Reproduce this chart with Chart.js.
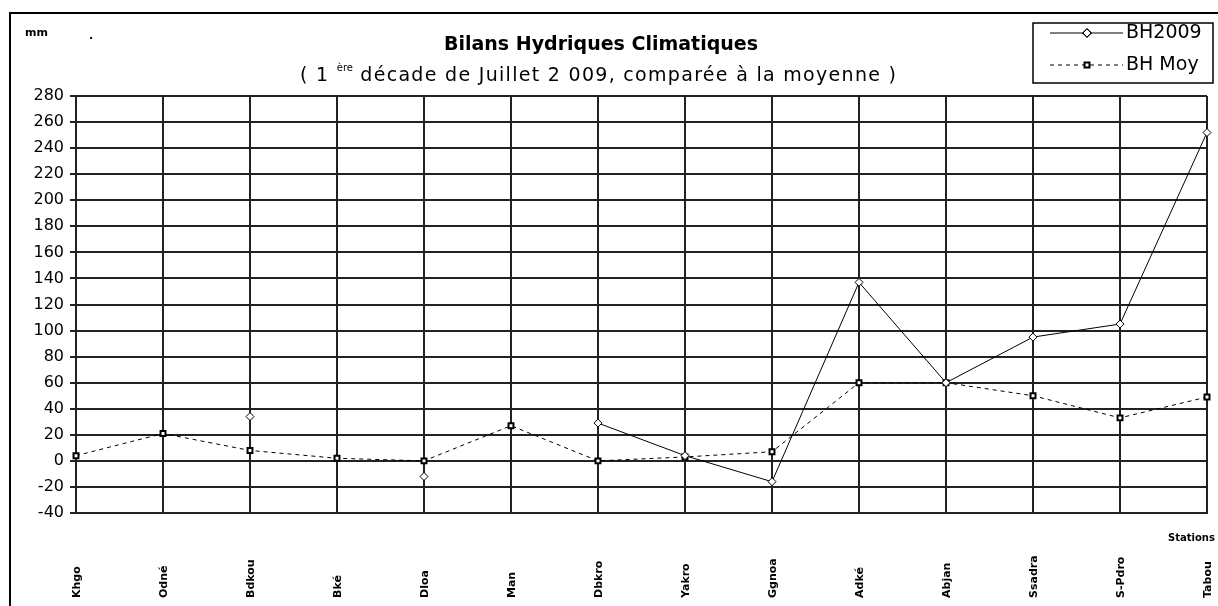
<!DOCTYPE html>
<html>
<head>
<meta charset="utf-8">
<script src="https://cdn.jsdelivr.net/npm/chart.js@4/dist/chart.umd.min.js"></script>
<style>
  body { margin: 0; background: #fff; }
  #wrap { width: 1218px; height: 606px; position: relative; }
</style>
</head>
<body>
<div id="wrap"><canvas id="bhChart"></canvas></div>
<script>
// stations (x axis categories)
const stations = ['Khgo', 'Odné', 'Bdkou', 'Bké', 'Dloa', 'Man', 'Dbkro', 'Yakro', 'Ggnoa', 'Adké', 'Abjan', 'Ssadra', 'S-Pdro', 'Tabou'];

// water balance 2009, mm (null = no value)
const bh2009 = [null, null, 34, null, -12, null, 29, 4, -16, 137, 60, 95, 105, 252];

// average water balance, mm
const bhMoy = [4, 21, 8, 2, 0, 27, 0, 3, 7, 60, 60, 50, 33, 49];

const seriesNames = ['BH2009', 'BH Moy'];

const yMin = -40;
const yMax = 280;
const yStep = 20;

const FONT = '"DejaVu Sans", Verdana, sans-serif';

// draws the frame, titles, legend and rotated station names
const decorPlugin = {
    id: 'decor',
    afterDraw(chart) {
        const ctx = chart.ctx;
        const xScale = chart.scales.x;
        ctx.save();

        // outer frame
        ctx.strokeStyle = '#000';
        ctx.lineWidth = 2;
        ctx.beginPath();
        ctx.moveTo(10, 606);
        ctx.lineTo(10, 13);
        ctx.lineTo(1218, 13);
        ctx.stroke();

        ctx.fillStyle = '#000';
        ctx.font = 'bold 11px ' + FONT;
        ctx.textAlign = 'left';
        ctx.textBaseline = 'middle';
        ctx.fillText('mm', 25, 33);
        ctx.fillText('.', 89, 36);

        // titles
        ctx.font = 'bold 19px ' + FONT;
        ctx.textAlign = 'center';
        ctx.fillText('Bilans Hydriques Climatiques', 601, 45);

        ctx.font = '19px ' + FONT;
        ctx.textAlign = 'left';
        ctx.letterSpacing = '1.3px';
        let x = 300;
        const part1 = '( 1 ';
        ctx.fillText(part1, x, 76);
        x += ctx.measureText(part1).width;
        ctx.font = '10px ' + FONT;
        ctx.letterSpacing = '0px';
        ctx.fillText('ère', x, 68);
        x += ctx.measureText('ère').width;
        ctx.font = '19px ' + FONT;
        ctx.letterSpacing = '1.3px';
        ctx.fillText(' décade de Juillet 2 009, comparée à la moyenne )', x, 76);
        ctx.letterSpacing = '0px';

        // legend
        ctx.lineWidth = 1.5;
        ctx.strokeRect(1033, 23, 180, 60);
        const rows = [33, 65];
        chart.data.datasets.forEach((ds, i) => {
            const y = rows[i];
            ctx.save();
            ctx.strokeStyle = '#000';
            ctx.lineWidth = 1;
            ctx.setLineDash(ds.borderDash || []);
            ctx.beginPath();
            ctx.moveTo(1050, y);
            ctx.lineTo(1123, y);
            ctx.stroke();
            ctx.restore();
            Chart.helpers.drawPoint(ctx, {
                pointStyle: ds.pointStyle,
                radius: ds.pointRadius,
                borderWidth: ds.pointBorderWidth,
                rotation: 0
            }, 1087, y);
            ctx.fillStyle = ds.pointBackgroundColor;
            ctx.strokeStyle = '#000';
            ctx.lineWidth = ds.pointBorderWidth;
            ctx.fill();
            ctx.stroke();
            ctx.fillStyle = '#000';
            ctx.font = '19px ' + FONT;
            ctx.textAlign = 'left';
            ctx.textBaseline = 'middle';
            ctx.fillText(ds.label, 1126, y);
        });

        // station labels, rotated and anchored at the bottom
        ctx.font = 'bold 11px ' + FONT;
        ctx.textAlign = 'left';
        ctx.textBaseline = 'middle';
        stations.forEach((s, i) => {
            const px = xScale.getPixelForValue(i);
            ctx.save();
            ctx.translate(px + 1, 598);
            ctx.rotate(-Math.PI / 2);
            ctx.fillText(s, 0, 0);
            ctx.restore();
        });

        ctx.font = 'bold 10px ' + FONT;
        ctx.textAlign = 'left';
        ctx.fillText('Stations', 1168, 538);
        ctx.restore();
    }
};

const ctx = document.getElementById('bhChart').getContext('2d');
new Chart(ctx, {
    type: 'line',
    data: {
        labels: stations,
        datasets: [{
            label: seriesNames[0],
            data: bh2009,
            borderColor: '#000',
            borderWidth: 1,
            pointStyle: 'rectRot',
            pointRadius: 4,
            pointBorderWidth: 1,
            pointBackgroundColor: '#fff',
            pointBorderColor: '#000',
            spanGaps: false,
            tension: 0
        }, {
            label: seriesNames[1],
            data: bhMoy,
            borderColor: '#000',
            borderWidth: 1,
            borderDash: [4, 4],
            pointStyle: 'rect',
            pointRadius: 3.5,
            pointBorderWidth: 2,
            pointBackgroundColor: '#fff',
            pointBorderColor: '#000',
            tension: 0
        }]
    },
    options: {
        responsive: true,
        maintainAspectRatio: false,
        animation: false,
        layout: {
            padding: { left: 0, top: 96, right: 11, bottom: 0 }
        },
        plugins: {
            legend: { display: false },
            title: { display: false },
            tooltip: { enabled: false }
        },
        scales: {
            x: {
                offset: false,
                grid: { color: '#222', lineWidth: 2, drawTicks: false },
                border: { color: '#222', width: 2 },
                ticks: { display: false },
                afterFit(scale) { scale.height = 93; }
            },
            y: {
                min: yMin,
                max: yMax,
                grid: { color: '#222', lineWidth: 2, tickLength: 6 },
                border: { color: '#222', width: 2 },
                ticks: {
                    stepSize: yStep,
                    color: '#000',
                    font: { family: FONT, size: 16 },
                    padding: 6
                },
                afterFit(scale) { scale.width = 76; }
            }
        }
    },
    plugins: [decorPlugin]
});
</script>
</body>
</html>
